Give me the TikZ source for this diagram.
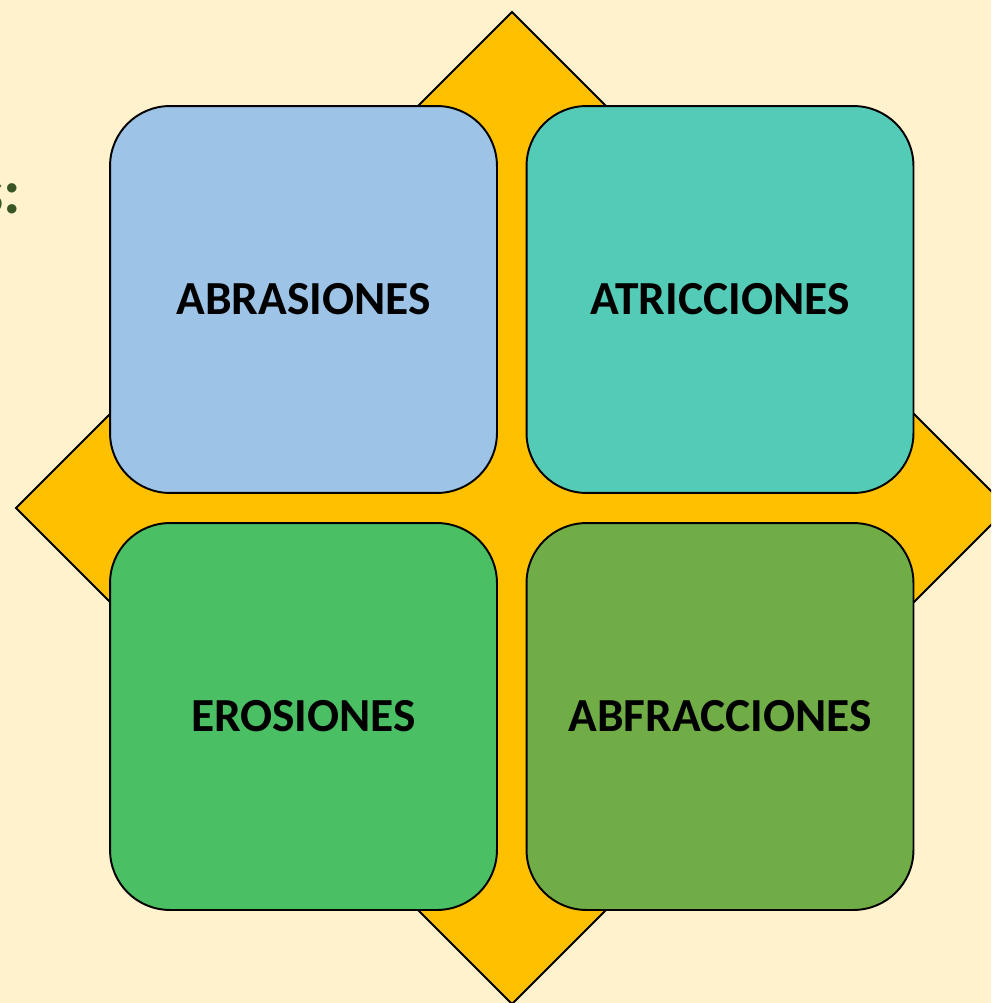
\documentclass[tikz,border=0pt]{standalone}
\usepackage{fontspec}
\setmainfont{Carlito}
\definecolor{fondo}{HTML}{FFF2CC}
\definecolor{naranja}{HTML}{FFC000}
\definecolor{azul}{HTML}{9DC3E6}
\definecolor{turquesa}{HTML}{53CBB7}
\definecolor{verde}{HTML}{4ABF64}
\definecolor{oliva}{HTML}{70AD47}
\definecolor{verdeoscuro}{HTML}{375623}

\begin{document}
\begin{tikzpicture}[x=0.02cm, y=-0.02cm,
	caja/.style={draw=black, line width=1.1pt, rounded corners=1.2cm,
		minimum width=7.74cm, minimum height=7.74cm,
		font=\bfseries\fontsize{27}{32}\selectfont}]
			%%%%% START %%%%%
			
			\fill[fondo] (0, 0) rectangle (991, 1003);
			\useasboundingbox (0, 0) rectangle (991, 1003);
			\clip (0, 0) rectangle (991, 1003);
			
			% titulo cortado
			\node[anchor=base east, text=verdeoscuro, font=\bfseries\fontsize{36}{42}\selectfont] (titulo) at (27, 214) {s:};
			
			% rombo
			\draw[fill=naranja, line width=1.1pt] (512, 12) -- (1008, 508) -- (512, 1004) -- (16, 508) -- cycle;
			
			\node[caja, fill=azul] (abrasiones) at (303.5, 299.5) {ABRASIONES};
			\node[caja, fill=turquesa] (atricciones) at (720, 299.5) {ATRICCIONES};
			\node[caja, fill=verde] (erosiones) at (303.5, 716.5) {EROSIONES};
			\node[caja, fill=oliva] (abfracciones) at (720, 716.5) {ABFRACCIONES};
			
			%%%%% END %%%%%
\end{tikzpicture}
\end{document}
